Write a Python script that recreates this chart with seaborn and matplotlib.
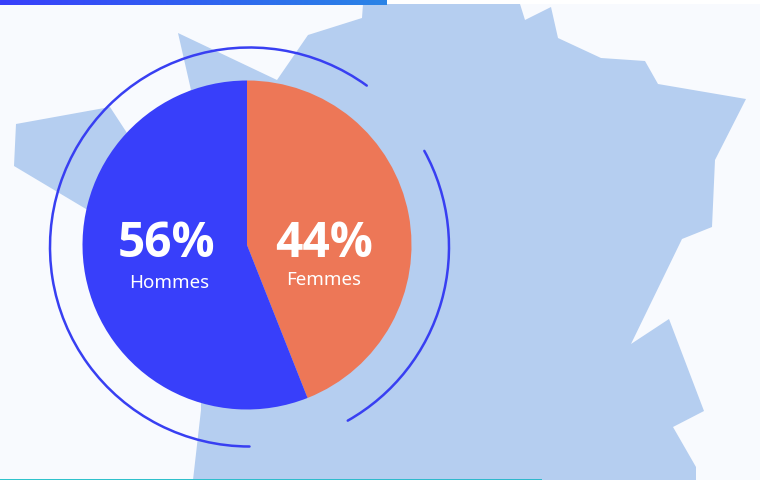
# Share of men and women, pie over a map of France with two arcs around it

import numpy as np
from matplotlib import pyplot as plt
from matplotlib.colors import LinearSegmentedColormap
from matplotlib.patches import Arc, Polygon
import seaborn as sns

# pie goes clockwise from the top, so Femmes comes first
labels = ['Femmes', 'Hommes']
shares = [44, 56]
share_labels = ['44%', '56%']

map_x = [363, 520, 525, 551, 558, 601, 645, 658, 746, 715, 712, 682, 631, 669,
         704, 673, 696, 696, 193, 201, 200, 86, 14, 16, 110, 127, 191, 178, 277, 308, 362]
map_y = [4, 4, 20, 7, 38, 58, 61, 84, 99, 160, 227, 239, 344, 319,
         411, 427, 467, 480, 480, 410, 245, 209, 166, 124, 107, 133, 90, 33, 80, 35, 18]

BACKGROUND = '#f8fafe'
MAP_COLOR = '#b5cef0'
ARC_COLOR = '#383ff2'
PIE_COLORS = sns.color_palette(['#ed7757', '#383ffa'])

sns.set_theme(style='white')
plt.rcParams['font.family'] = ['Noto Sans', 'DejaVu Sans']
BOLD_FONT = ['Open Sans', 'DejaVu Sans']

fig = plt.figure(figsize=(7.6, 4.8), dpi=100, facecolor='white')
ax = fig.add_axes([0, 0, 1, 1])
ax.set_facecolor('white')

# page background leaves a white strip along the top edge
ax.add_patch(Polygon([(0, 4), (760, 4), (760, 480), (0, 480)], closed=True,
                     facecolor=BACKGROUND, edgecolor='none', zorder=0))
ax.add_patch(Polygon(list(zip(map_x, map_y)), closed=True,
                     facecolor=MAP_COLOR, edgecolor='none', zorder=1))

# y axis is flipped so pixels read as in the picture, angles are mirrored too
ax.pie(shares, colors=PIE_COLORS, center=(247, 245), radius=164.5,
       startangle=-90, counterclock=True, frame=True,
       wedgeprops={'linewidth': 0, 'zorder': 3})

for start, end in [(-270, -54), (-28.8, 60.5)]:
    ax.add_patch(Arc((249.5, 247), 399, 399, theta1=start, theta2=end,
                     color=ARC_COLOR, linewidth=1.8, capstyle='round', zorder=4))

# gradient bars on the top and bottom edges
top_bar = LinearSegmentedColormap.from_list('top_bar', ['#383ffb', '#2a84e6'])
ax.imshow(np.linspace(0, 1, 256).reshape(1, -1), cmap=top_bar, aspect='auto',
          extent=(0, 387, 5, 0), zorder=5)
bottom_bar = LinearSegmentedColormap.from_list('bottom_bar', ['#2fc4cc', '#2fb8cc'])
ax.imshow(np.linspace(0, 1, 256).reshape(1, -1), cmap=bottom_bar, aspect='auto',
          extent=(0, 542, 480, 479), zorder=5)

ax.text(324.5, 257, share_labels[0], color='white', fontsize=34.5, fontweight='bold',
        family=BOLD_FONT, ha='center', va='baseline', zorder=6)
ax.text(323.5, 285, labels[0], color='white', fontsize=13.5, ha='center', va='baseline', zorder=6)
ax.text(167, 257, share_labels[1], color='white', fontsize=34.5, fontweight='bold',
        family=BOLD_FONT, ha='center', va='baseline', zorder=6)
ax.text(169, 288, labels[1], color='white', fontsize=13.5, ha='center', va='baseline', zorder=6)

ax.set_xlim(0, 760)
ax.set_ylim(480, 0)
ax.set_aspect('auto')
ax.set_xticks([])
ax.set_yticks([])
sns.despine(ax=ax, left=True, bottom=True)

plt.savefig('out.png', dpi=100, facecolor='white')
plt.close()
